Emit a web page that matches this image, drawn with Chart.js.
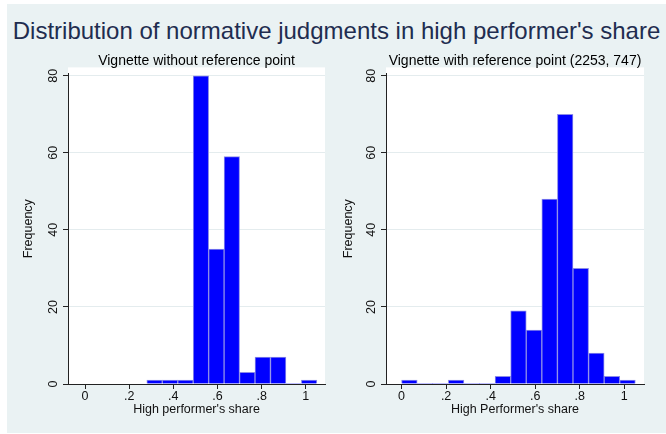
<!DOCTYPE html>
<html>
<head>
<meta charset="utf-8">
<script src="https://cdn.jsdelivr.net/npm/chart.js@4"></script>
<style>
  body { margin: 0; background: #ffffff; }
  #frame { position: absolute; left: 7px; top: 4px; width: 659px; height: 429px; background: #eaf2f3; }
  #title { position: absolute; left: 7px; top: 17px; width: 659px; text-align: center;
           font-family: "Liberation Sans", Arial, sans-serif; font-size: 24px; line-height: 28px; color: #1f2d50; white-space: nowrap; }
  canvas { position: absolute; top: 48px; }
  #leftChart { left: 7px; }
  #rightChart { left: 333px; }
</style>
</head>
<body>
<div id="frame"></div>
<div id="title">Distribution of normative judgments in high performer's share</div>
<canvas id="leftChart" width="326" height="380"></canvas>
<canvas id="rightChart" width="333" height="380"></canvas>
<script>
// bin midpoints (bin width .07) and frequencies
const leftShare = [0.315, 0.385, 0.455, 0.525, 0.595, 0.665, 0.735, 0.805, 0.875, 0.945, 1.015];
const leftFreq = [1, 1, 1, 80, 35, 59, 3, 7, 7, 0, 1];

const rightShare = [0.035, 0.105, 0.175, 0.245, 0.315, 0.385, 0.455, 0.525, 0.595, 0.665, 0.735, 0.805, 0.875, 0.945, 1.015];
const rightFreq = [1, 0, 0, 1, 0, 0, 2, 19, 14, 48, 70, 30, 8, 2, 1];

const xTicks = [0, 0.2, 0.4, 0.6, 0.8, 1];
const xTickLabels = ['0', '.2', '.4', '.6', '.8', '1'];
const yTicks = [0, 20, 40, 60, 80];

const FONT = '"Liberation Sans", Arial, sans-serif';

// white plot region behind the bars
const plotRegion = {
    id: 'plotRegion',
    beforeDraw(chart) {
        const a = chart.chartArea;
        const c = chart.ctx;
        c.save();
        c.fillStyle = '#ffffff';
        c.fillRect(a.left, a.top - 6, a.right - a.left, a.bottom - a.top + 6);
        c.restore();
    }
};

function makeHistogram(canvasId, opts) {
    new Chart(document.getElementById(canvasId), {
        type: 'bar',
        data: {
            datasets: [{
                data: opts.share.map((s, i) => ({ x: s, y: opts.freq[i] })),
                backgroundColor: '#0000ff',
                borderColor: '#8c8ce8',
                borderWidth: ctx => (ctx.raw && ctx.raw.y > 0 ? 1 : 0),
                barPercentage: 1,
                categoryPercentage: 1
            }]
        },
        options: {
            responsive: false,
            animation: false,
            events: [],
            layout: { padding: { left: 0, right: opts.padRight, top: 0, bottom: 0 } },
            plugins: {
                legend: { display: false },
                tooltip: { enabled: false },
                title: {
                    display: true,
                    fullSize: false,
                    text: opts.title,
                    color: '#000',
                    font: { family: FONT, size: 14, weight: 'normal' },
                    padding: { top: 5, bottom: 3.6 }
                }
            },
            scales: {
                x: {
                    type: 'linear',
                    min: opts.xMin,
                    max: opts.xMax,
                    offset: false,
                    afterBuildTicks: s => { s.ticks = xTicks.map(v => ({ value: v })); },
                    afterFit: s => { s.height = 44; },
                    grid: { display: true, offset: false, drawOnChartArea: false, tickLength: 5, tickColor: '#222' },
                    border: { color: '#222', width: 1 },
                    ticks: {
                        color: '#111',
                        font: { family: FONT, size: 12.5 },
                        padding: 0.5,
                        maxRotation: 0,
                        callback: (v, i) => xTickLabels[i]
                    },
                    title: {
                        display: true,
                        text: opts.xTitle,
                        color: '#111',
                        font: { family: FONT, size: 12.5 },
                        padding: { top: 0, bottom: 10.5 }
                    }
                },
                y: {
                    min: 0,
                    max: 80.6,
                    afterBuildTicks: s => { s.ticks = yTicks.map(v => ({ value: v })); },
                    afterFit: s => { s.width = opts.yWidth; },
                    grid: { color: '#e4ecee', tickLength: 5, tickColor: '#222' },
                    border: { color: '#222', width: 1 },
                    ticks: {
                        color: '#111',
                        font: { family: FONT, size: 12.5 },
                        padding: 3,
                        minRotation: 90,
                        maxRotation: 90,
                        crossAlign: 'center'
                    },
                    title: {
                        display: true,
                        text: 'Frequency',
                        color: '#111',
                        font: { family: FONT, size: 12.5 },
                        padding: { top: opts.yTitlePad, bottom: 0 }
                    }
                }
            }
        },
        plugins: [plotRegion]
    });
}

makeHistogram('leftChart', {
    share: leftShare,
    freq: leftFreq,
    title: 'Vignette without reference point',
    xTitle: "High performer's share",
    xMin: -0.077,
    xMax: 1.087,
    yWidth: 61,
    yTitlePad: 14.5,
    padRight: 8
});

makeHistogram('rightChart', {
    share: rightShare,
    freq: rightFreq,
    title: 'Vignette with reference point (2253, 747)',
    xTitle: "High Performer's share",
    xMin: -0.07,
    xMax: 1.089,
    yWidth: 53,
    yTitlePad: 8.5,
    padRight: 22
});
</script>
</body>
</html>
